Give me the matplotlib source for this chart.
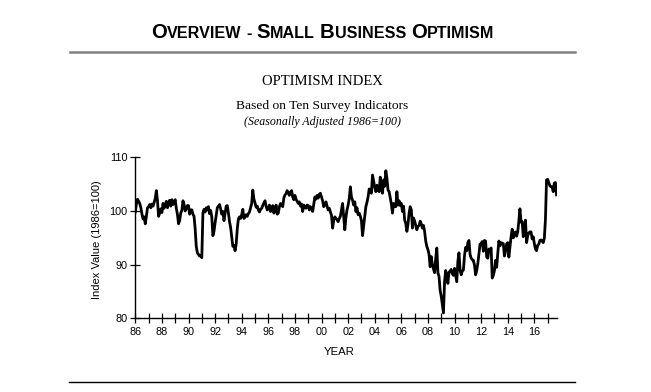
import numpy as np
import matplotlib
matplotlib.use('Agg')
import matplotlib.pyplot as plt
from matplotlib.lines import Line2D

# Monthly optimism index values (1986=100), Jan 1986 - Sep 2017.
idx_1986 = [99.8, 101.3, 102.2, 101.8, 101.4, 100.6, 99.4, 98.5, 98.9, 97.6, 99.0, 100.6]
idx_1987 = [100.8, 101.2, 100.6, 101.3, 100.9, 101.6, 102.3, 103.8, 101.9, 99.0, 99.6, 100.4]
idx_1988 = [99.7, 101.4, 100.5, 101.2, 101.8, 100.6, 101.5, 102.0, 100.9, 102.1, 101.2, 101.7]
idx_1989 = [102.1, 100.5, 99.4, 97.6, 98.2, 99.6, 100.1, 101.9, 101.2, 100.0, 100.4, 101.0]
idx_1990 = [101.0, 99.4, 100.2, 100.2, 99.4, 99.0, 96.7, 93.4, 92.2, 91.9, 91.6, 91.7]
idx_1991 = [91.3, 99.6, 100.3, 99.8, 100.6, 100.2, 100.8, 99.5, 100.1, 98.9, 95.4, 96.2]
idx_1992 = [97.8, 99.2, 100.6, 100.9, 101.2, 100.4, 99.4, 99.9, 98.2, 99.5, 100.9, 101.0]
idx_1993 = [99.6, 98.0, 96.9, 95.2, 93.4, 93.6, 92.6, 93.8, 96.7, 98.5, 98.9, 98.6]
idx_1994 = [99.3, 100.3, 98.6, 98.9, 99.3, 99.0, 99.5, 99.8, 100.6, 101.4, 103.9, 102.2]
idx_1995 = [101.5, 100.7, 100.9, 100.2, 99.8, 100.3, 100.5, 101.0, 101.5, 101.9, 100.9, 100.2]
idx_1996 = [100.4, 101.1, 99.9, 100.5, 101.0, 99.6, 100.2, 101.1, 99.4, 99.6, 100.8, 101.4]
idx_1997 = [101.1, 100.8, 102.4, 103.0, 103.2, 103.8, 103.4, 102.9, 103.5, 103.8, 102.6, 102.1]
idx_1998 = [102.9, 102.2, 101.8, 101.4, 101.7, 100.9, 101.3, 99.9, 101.1, 100.7, 100.5, 101.1]
idx_1999 = [101.0, 100.2, 100.8, 100.4, 99.9, 101.2, 102.6, 102.2, 102.9, 102.4, 103.1, 103.3]
idx_2000 = [102.6, 101.9, 100.8, 101.2, 101.7, 100.9, 100.2, 100.5, 99.8, 99.2, 96.8, 98.3]
idx_2001 = [98.9, 98.6, 98.4, 98.0, 98.6, 99.0, 100.2, 101.4, 99.0, 96.5, 98.8, 100.2]
idx_2002 = [101.1, 102.3, 104.5, 102.6, 102.0, 101.1, 101.7, 99.9, 100.6, 99.3, 99.6, 99.0]
idx_2003 = [98.2, 95.4, 97.2, 99.0, 100.8, 101.6, 102.6, 104.1, 103.9, 103.3, 106.7, 105.5]
idx_2004 = [104.4, 103.6, 104.8, 103.9, 103.6, 106.3, 104.2, 103.3, 105.8, 104.6, 107.5, 106.1]
idx_2005 = [103.9, 103.6, 102.4, 101.3, 99.6, 101.4, 100.9, 100.8, 103.6, 101.1, 101.9, 101.0]
idx_2006 = [101.4, 99.9, 100.9, 98.3, 97.7, 96.2, 97.5, 99.6, 100.8, 100.2, 96.8, 98.7]
idx_2007 = [98.1, 97.3, 96.5, 97.1, 97.3, 98.1, 97.6, 96.8, 97.3, 96.2, 94.4, 93.4]
idx_2008 = [92.8, 91.9, 89.6, 91.5, 90.0, 89.2, 88.5, 91.1, 93.1, 88.5, 87.8, 85.2]
idx_2009 = [84.1, 82.6, 81.0, 86.8, 88.9, 87.9, 86.5, 88.6, 88.8, 89.1, 88.3, 88.0]
idx_2010 = [89.3, 88.0, 86.8, 90.6, 92.2, 89.0, 88.1, 88.8, 89.0, 91.7, 93.2, 92.6]
idx_2011 = [94.1, 94.5, 91.9, 91.2, 90.9, 90.8, 89.9, 88.1, 88.9, 90.2, 92.0, 93.8]
idx_2012 = [93.9, 94.3, 92.5, 94.5, 94.4, 91.4, 91.2, 92.9, 92.8, 93.1, 87.5, 88.0]
idx_2013 = [88.9, 90.8, 89.5, 92.1, 94.4, 93.5, 94.1, 94.0, 93.9, 91.6, 92.5, 93.9]
idx_2014 = [94.1, 91.4, 93.4, 95.2, 96.6, 95.0, 95.7, 96.1, 95.3, 96.1, 98.1, 100.4]
idx_2015 = [97.9, 98.0, 95.2, 96.9, 98.3, 94.1, 95.4, 95.9, 96.1, 96.1, 94.8, 95.2]
idx_2016 = [93.9, 92.9, 92.6, 93.6, 93.8, 94.5, 94.6, 94.4, 94.1, 94.9, 98.4, 105.8]
idx_2017 = [105.9, 105.3, 104.7, 104.5, 104.5, 103.6, 105.2, 105.3, 103.0]

index_values = (idx_1986 + idx_1987 + idx_1988 + idx_1989 + idx_1990 + idx_1991 +
                idx_1992 + idx_1993 + idx_1994 + idx_1995 + idx_1996 + idx_1997 +
                idx_1998 + idx_1999 + idx_2000 + idx_2001 + idx_2002 + idx_2003 +
                idx_2004 + idx_2005 + idx_2006 + idx_2007 + idx_2008 + idx_2009 +
                idx_2010 + idx_2011 + idx_2012 + idx_2013 + idx_2014 + idx_2015 +
                idx_2016 + idx_2017)
start_year = 1986
tick_years = list(range(1986, 2018))
label_years = list(range(1986, 2017, 2))
y_ticks = [80, 90, 100, 110]

# Time axis in decimal years (one point per month).
t = start_year + np.arange(len(index_values)) / 12.0

W, H = 651, 392
fig = plt.figure(figsize=(W / 100, H / 100), dpi=100)
fig.patch.set_facecolor('white')

SANS = 'Liberation Sans'
SERIF = 'Liberation Serif'

# Title in small caps: build it piece by piece and centre it.
title_words = ['OVERVIEW', '-', 'SMALL', 'BUSINESS', 'OPTIMISM']
big_size, small_size = 14.6, 11.6
title_y = 1 - 37.7 / H
title_cx = 322.5
renderer = fig.canvas.get_renderer()
pieces = []
for word in title_words:
    if word == '-':
        pieces.append((word, small_size))
    else:
        pieces.append((word[0], big_size))
        pieces.append((word[1:], small_size))
    pieces.append((None, None))
pieces = pieces[:-1]

texts = []
widths = []
space_px = 5.0
for txt, size in pieces:
    if txt is None:
        texts.append(None)
        widths.append(space_px)
        continue
    tobj = fig.text(0, title_y, txt, fontsize=size, fontweight='bold',
                    family=SANS, ha='left', va='baseline')
    w = tobj.get_window_extent(renderer).width
    texts.append(tobj)
    widths.append(w)

total = sum(widths)
x = title_cx - total / 2
for tobj, w in zip(texts, widths):
    if tobj is not None:
        tobj.set_x(x / W)
    x += w

# Header rules
fig.add_artist(Line2D([70 / W, 575 / W], [1 - 51.7 / H, 1 - 51.7 / H],
                      transform=fig.transFigure, color='#808080', lw=1.8))
fig.add_artist(Line2D([69 / W, 575 / W], [1 - 381.5 / H, 1 - 381.5 / H],
                      transform=fig.transFigure, color='black', lw=1.0))

fig.text(title_cx / W, 1 - 81.7 / H, 'OPTIMISM INDEX', family=SERIF,
         fontsize=10.5, ha='center', va='center')
fig.text(title_cx / W, 1 - 106.5 / H, 'Based on Ten Survey Indicators', family=SERIF,
         fontsize=9.7, ha='center', va='center')
fig.text(title_cx / W, 1 - 121.7 / H, '(Seasonally Adjusted 1986=100)', family=SERIF,
         fontsize=8.6, style='italic', ha='center', va='center')

# Chart area
x0, x1 = 135.3, 556.7
y_top, y_bot = 157.3, 318.3
ax = fig.add_axes([x0 / W, 1 - y_bot / H, (x1 - x0) / W, (y_bot - y_top) / H])
ax.plot(t, index_values, color='black', lw=2.0, solid_joinstyle='round')

ax.set_xlim(1986, 2017.68)
ax.set_ylim(80, 110)
ax.set_yticks(y_ticks)
ax.set_yticklabels([str(v) for v in y_ticks])
ax.set_xticks(tick_years)
ax.set_xticklabels(['%02d' % (y % 100) if y in label_years else '' for y in tick_years])

for side in ('top', 'right'):
    ax.spines[side].set_visible(False)
for side in ('left', 'bottom'):
    ax.spines[side].set_linewidth(1.0)

ax.tick_params(direction='inout', length=7, width=0.9, colors='black',
               labelsize=7.8, pad=2)
ax.tick_params(axis='x', pad=3)
for lab in ax.get_xticklabels() + ax.get_yticklabels():
    lab.set_family(SANS)

fig.text(339.6 / W, 1 - 352.3 / H, 'YEAR', family=SANS, fontsize=8.2,
         ha='center', va='center')
fig.text(96.7 / W, 1 - 240 / H, 'Index Value (1986=100)', family=SANS, fontsize=8,
         rotation=90, ha='center', va='center')

fig.savefig('out.png', dpi=100, facecolor='white')
